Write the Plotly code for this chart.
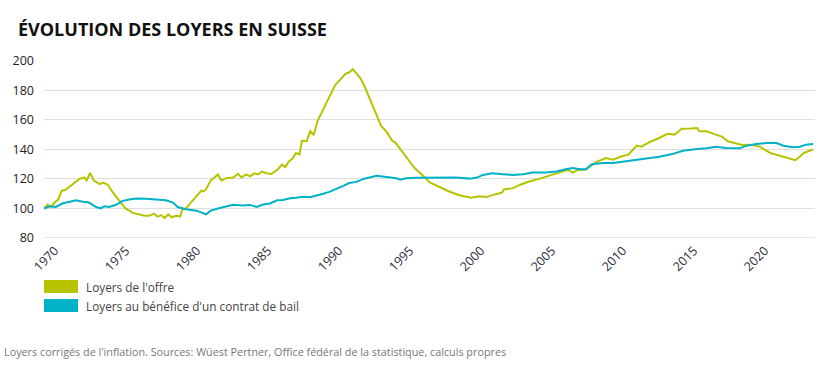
import plotly.graph_objects as go

# ---------------- data ----------------
offer_dates = ["1970-01", "1970-04", "1970-07", "1970-10", "1971-01", "1971-04", "1971-07", "1971-10",
               "1972-01", "1972-07", "1972-11", "1973-01", "1973-04", "1973-07", "1973-12", "1974-03",
               "1974-07", "1974-11", "1975-05", "1975-10", "1976-04", "1976-09", "1977-02", "1977-06",
               "1977-10", "1978-01", "1978-04", "1978-07", "1978-10", "1979-01", "1979-05", "1979-08",
               "1979-10", "1980-01", "1980-05", "1980-10", "1981-02", "1981-04", "1981-06", "1981-10",
               "1982-04", "1982-07", "1982-11", "1983-05", "1983-09", "1983-12", "1984-04", "1984-07",
               "1984-11", "1985-02", "1985-05", "1985-09", "1986-01", "1986-06", "1986-10", "1987-01",
               "1987-04", "1987-07", "1987-10", "1988-01", "1988-03", "1988-07", "1988-10", "1989-01",
               "1989-04", "1989-08", "1990-01", "1990-07", "1990-12", "1991-04", "1991-07", "1991-10",
               "1992-01", "1992-04", "1992-07", "1992-12", "1993-05", "1993-10", "1994-03", "1994-07",
               "1994-10", "1995-02", "1995-06", "1995-10", "1996-02", "1996-07", "1996-11", "1997-03",
               "1997-09", "1998-02", "1998-08", "1999-04", "2000-02", "2000-09", "2001-03", "2001-10",
               "2002-04", "2002-06", "2003-01", "2003-07", "2004-03", "2004-12", "2005-08", "2006-05",
               "2006-12", "2007-04", "2007-08", "2008-03", "2008-12", "2009-08", "2010-02", "2010-08",
               "2011-03", "2011-06", "2011-10", "2012-02", "2012-09", "2013-05", "2013-12", "2014-06",
               "2014-12", "2015-07", "2016-01", "2016-03", "2016-09", "2017-03", "2017-10", "2018-03",
               "2018-10", "2019-03", "2019-10", "2020-06", "2020-10", "2021-03", "2021-08", "2022-02",
               "2022-09", "2022-12", "2023-03", "2023-07", "2023-12", "2024-03"]
offer_values = [100, 102.7, 101, 104, 106, 112, 112.5, 114.5,
                116.5, 120, 121, 119, 124, 119, 116.5, 117.5,
                116, 111, 105, 100, 97, 96, 95, 95,
                96.5, 94.5, 95.5, 93.5, 96, 94, 95, 94.5,
                99.5, 100, 104, 108.5, 112, 111.5, 113, 119,
                123, 119, 120.5, 121, 123.5, 121, 123, 121.7,
                123.8, 123, 125, 123.8, 123.3, 126, 129.7, 128,
                131.8, 133.6, 137.5, 136.6, 145.8, 145.5, 152.4, 149.7,
                158.8, 165.7, 173.7, 183.3, 187.4, 191.3, 192, 194.3,
                191.5, 188.6, 184.4, 174.8, 164.5, 155.8, 151.5, 146.2,
                144.6, 140, 136, 131.8, 127.5, 124, 121, 117.6,
                115.3, 113.5, 111.3, 108.9, 107.3, 108.2, 107.7, 109.5,
                110.7, 113, 113.6, 115.9, 118.2, 120.2, 122.3, 124.3,
                126.1, 124.3, 126.1, 126.4, 131.6, 134.1, 133, 135,
                136.4, 139.1, 142.5, 141.8, 145, 147.7, 150.5, 150,
                153.9, 154.1, 154.5, 152.3, 152.3, 150.5, 148.6, 145.5,
                144.3, 143, 143.2, 141.8, 139.8, 137.5, 136.4, 135,
                133.9, 132.7, 134.5, 137.5, 139.1, 140]

lease_dates = ["1970-01", "1970-06", "1970-11", "1971-05", "1971-11", "1972-04", "1972-10", "1973-03",
               "1973-09", "1974-01", "1974-04", "1974-08", "1975-02", "1975-07", "1976-01", "1976-07",
               "1977-03", "1977-12", "1978-08", "1979-02", "1979-06", "1980-01", "1980-10", "1981-06",
               "1981-10", "1982-04", "1982-11", "1983-05", "1984-01", "1984-07", "1985-01", "1985-06",
               "1985-12", "1986-06", "1986-11", "1987-05", "1987-10", "1988-04", "1988-10", "1989-03",
               "1989-09", "1990-02", "1990-08", "1991-02", "1991-07", "1992-01", "1992-07", "1992-12",
               "1993-06", "1993-11", "1994-05", "1994-11", "1995-02", "1995-07", "1996-04", "1997-03",
               "1998-08", "1999-01", "2000-01", "2000-07", "2000-12", "2001-08", "2002-05", "2003-01",
               "2003-10", "2004-06", "2005-05", "2006-02", "2006-10", "2007-04", "2007-10", "2008-03",
               "2008-08", "2009-05", "2010-02", "2010-10", "2011-07", "2012-06", "2013-05", "2014-04",
               "2015-01", "2016-01", "2016-09", "2017-05", "2018-01", "2019-01", "2019-07", "2020-03",
               "2020-11", "2021-08", "2022-02", "2022-10", "2023-04", "2023-09", "2024-03"]
lease_values = [100, 101.5, 101, 103.5, 104.5, 105.5, 104.5, 104,
                101, 100, 101.5, 101, 102.5, 105, 106, 106.7,
                106.5, 106, 105.5, 104, 101, 99.5, 98.5, 96,
                98.5, 100, 101.5, 102.5, 102, 102.4, 101, 102.7,
                103.4, 105.5, 105.7, 106.9, 107.3, 108, 107.6, 108.5,
                110, 111.2, 113, 115.3, 117.2, 118, 120, 121,
                122.2, 121.7, 121, 120.4, 119.5, 120.4, 120.8, 121,
                121, 120.9, 120.2, 120.9, 122.7, 123.9, 123.2, 122.7,
                123.2, 124.3, 124.3, 125, 126.6, 127.3, 126.6, 126.6,
                130, 130.7, 130.7, 131.6, 132.7, 134.1, 135, 136.8,
                139.1, 140.2, 140.7, 141.8, 140.9, 140.7, 142.5, 143.6,
                144.3, 144.3, 142.5, 141.4, 141.8, 143.2, 143.6]

series_names = ["Loyers de l'offre", "Loyers au bénéfice d'un contrat de bail"]
y_ticks = [80, 100, 120, 140, 160, 180, 200]

title_text = "ÉVOLUTION DES LOYERS EN SUISSE"
note_text = ("Loyers corrigés de l'inflation. Sources: Wüest Pertner, "
             "Office fédéral de la statistique, calculs propres")

# ---------------- style ----------------
GREEN = "#b8c300"
CYAN = "#00b2c8"
W, H = 830, 368
L, T = 44, 60                # plot area left/top in page px
R = W - 815
B = H - 238
PW, PH = W - L - R, H - T - B
FONT = "Open Sans"


def px_x(px):
    """page-pixel x -> paper x"""
    return (px - L) / PW


def px_y(py):
    """page-pixel y -> paper y"""
    return (T + PH - py) / PH


fig = go.Figure()
fig.add_trace(go.Scatter(x=offer_dates, y=offer_values, mode="lines", name=series_names[0],
                         line=dict(color=GREEN, width=2), showlegend=False))
fig.add_trace(go.Scatter(x=lease_dates, y=lease_values, mode="lines", name=series_names[1],
                         line=dict(color=CYAN, width=2), showlegend=False))

# legend swatches + labels
shapes = []
annotations = []
for i, (name, col) in enumerate(zip(series_names, [GREEN, CYAN])):
    top = 280 + i * 19
    shapes.append(dict(type="rect", xref="paper", yref="paper",
                       x0=px_x(44), x1=px_x(78), y0=px_y(top + 13), y1=px_y(top),
                       fillcolor=col, line=dict(width=0)))
    annotations.append(dict(text=name, xref="paper", yref="paper", x=px_x(84), y=px_y(top + 6.5),
                            xanchor="left", yanchor="middle", showarrow=False,
                            font=dict(family=FONT, size=11.8, color="#444")))

annotations.append(dict(text=note_text, xref="paper", yref="paper", x=px_x(2), y=px_y(351),
                        xanchor="left", yanchor="middle", showarrow=False,
                        font=dict(family=FONT, size=10.8, color="#777")))

fig.update_layout(
    width=W, height=H,
    margin=dict(l=L, r=R, t=T, b=B),
    paper_bgcolor="white", plot_bgcolor="white",
    title=dict(text="<b>" + title_text + "</b>", x=18 / W, xref="container", xanchor="left",
               y=1 - 30 / H, yref="container", yanchor="middle",
               font=dict(family=FONT, size=18, color="#111")),
    shapes=shapes,
    annotations=annotations,
    showlegend=False,
    xaxis=dict(type="date", range=["1970-01-01", "2024-04-20"],
               tick0="1970-01-01", dtick="M60", tickformat="%Y",
               tickangle=-45, showgrid=False, zeroline=False, showline=False,
               ticks="", ticklabelshift=11, ticklabelstandoff=2,
               tickfont=dict(family=FONT, size=12.5, color="#2a2a3a")),
    yaxis=dict(range=[80, 200.5], tickvals=y_ticks, showgrid=True,
               gridcolor="#dedede", gridwidth=1, zeroline=False,
               showline=False, ticks="", ticklabelstandoff=9,
               tickfont=dict(family=FONT, size=12.5, color="#222")),
)
fig.add_hline(y=80, line=dict(color="#e6e6e6", width=2), layer="below")

# remove the default 8px body margin so the figure fills the window exactly
fig.write_html("out.html",
               config={"displayModeBar": False},
               post_script="document.body.style.margin='0';document.body.style.overflow='hidden';")
